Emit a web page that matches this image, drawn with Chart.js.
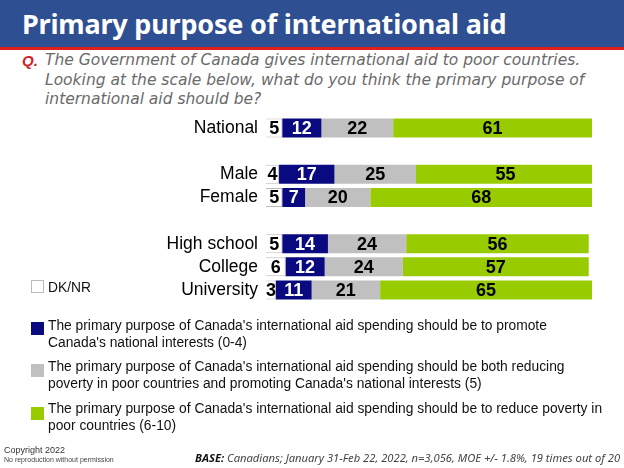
<!DOCTYPE html>
<html>
<head>
<meta charset="utf-8">
<script src="https://cdn.jsdelivr.net/npm/chart.js@4"></script>
<style>
  body { margin:0; width:624px; height:468px; position:relative; background:#fff; overflow:hidden; font-family:Arial, "Liberation Sans", sans-serif; }
  .banner { position:absolute; left:0; top:0; width:624px; height:47px; background:#2f4f93; border-bottom:3px solid #e0201c; }
  .banner h1 { margin:0; position:absolute; left:22px; top:5px; color:#fff; font-family:"Noto Sans", sans-serif; font-weight:bold; font-size:27px; letter-spacing:-0.2px; }
  .q { position:absolute; left:22px; top:52px; color:#d31f26; font:bold italic 15px Arial; }
  .qtext { position:absolute; left:45px; top:51px; color:#6a6a6a; font-family:"DejaVu Sans", sans-serif; font-style:italic; font-size:15.5px; line-height:19.5px; white-space:nowrap; }
  #wrap { position:absolute; left:0; top:106px; width:600px; height:206px; }
  .leg { position:absolute; left:33px; font-size:13.8px; color:#111; line-height:17px; white-space:nowrap; }
  .sw { position:absolute; left:-2px; width:13px; height:13px; }
  .leg span.t { position:absolute; left:15px; top:0; }
  .foot1 { position:absolute; left:4px; top:445px; font-size:9px; color:#333; }
  .foot2 { position:absolute; left:4px; top:456px; font-size:7px; color:#444; }
  .base { position:absolute; left:195px; top:450px; font-size:11.2px; font-style:italic; color:#444; font-family:"Noto Sans", sans-serif; white-space:nowrap; }
  .base b { color:#111; }
</style>
</head>
<body>
<div class="banner"><h1>Primary purpose of international aid</h1></div>
<div class="q">Q.</div>
<div class="qtext">The Government of Canada gives international aid to poor countries.<br>Looking at the scale below, what do you think the primary purpose of<br>international aid should be?</div>

<div id="wrap"><canvas id="c"></canvas></div>

<div class="leg" style="top:279px"><div class="sw" style="top:1px;background:#fff;border:1px solid #bbb;width:11px;height:11px"></div><span class="t">DK/NR</span></div>
<div class="leg" style="top:317px"><div class="sw" style="top:5px;background:#0a0a80"></div><span class="t">The primary purpose of Canada's international aid spending should be to promote<br>Canada's national interests (0-4)</span></div>
<div class="leg" style="top:358px"><div class="sw" style="top:6px;background:#c0c0c0"></div><span class="t">The primary purpose of Canada's international aid spending should be both reducing<br>poverty in poor countries and promoting Canada's national interests (5)</span></div>
<div class="leg" style="top:400px"><div class="sw" style="top:7px;background:#99cc00"></div><span class="t">The primary purpose of Canada's international aid spending should be to reduce poverty in<br>poor countries (6-10)</span></div>

<div class="foot1">Copyright 2022</div>
<div class="foot2">No reproduction without permission</div>
<div class="base"><b>BASE:</b> Canadians; January 31-Feb 22, 2022, n=3,056, MOE +/- 1.8%, 19 times out of 20</div>

<script>
// rows (blank entries are spacer rows between groups)
const groups = ["National", "", "Male", "Female", "", "High school", "College", "University"];
const dknr     = [5, null, 4, 5, null, 5, 6, 3];
const national = [12, null, 17, 7, null, 14, 12, 11];
const both     = [22, null, 25, 20, null, 24, 24, 21];
const poverty  = [61, null, 55, 68, null, 56, 57, 65];

// write the number in the middle of every segment
const valueLabels = {
  id: "valueLabels",
  afterDatasetsDraw(chart) {
    const ctx = chart.ctx;
    ctx.save();
    ctx.font = "bold 18px Arial";
    ctx.textAlign = "center";
    ctx.textBaseline = "middle";
    chart.data.datasets.forEach((ds, i) => {
      chart.getDatasetMeta(i).data.forEach((bar, j) => {
        const v = ds.data[j];
        if (v == null) return;
        ctx.fillStyle = i == 1 ? "#fff" : "#000";
        ctx.fillText(v, (bar.x + bar.base) / 2, bar.y + 1);
      });
    });
    ctx.restore();
  }
};

new Chart(document.getElementById("c"), {
  type: "bar",
  data: {
    labels: groups,
    datasets: [
      { label: "DK/NR", data: dknr, backgroundColor: "#fff", borderColor: "#bbb", borderWidth: 1 },
      { label: "National interests", data: national, backgroundColor: "#0a0a80" },
      { label: "Both", data: both, backgroundColor: "#c0c0c0" },
      { label: "Reduce poverty", data: poverty, backgroundColor: "#99cc00" }
    ]
  },
  options: {
    indexAxis: "y",
    responsive: true,
    maintainAspectRatio: false,
    animation: false,
    layout: { padding: { top: 7, bottom: 8, right: 8 } },
    datasets: { bar: { barPercentage: 0.82, categoryPercentage: 1 } },
    plugins: { legend: { display: false }, tooltip: { enabled: false } },
    scales: {
      x: { stacked: true, min: 0, max: 100, display: false },
      y: {
        stacked: true,
        grid: { display: false },
        border: { display: false },
        ticks: { color: "#000", font: { size: 17.5, family: "Arial" }, padding: 0, autoSkip: false },
        afterFit(scale) { scale.width = 266; }
      }
    }
  },
  plugins: [valueLabels]
});
</script>
</body>
</html>
